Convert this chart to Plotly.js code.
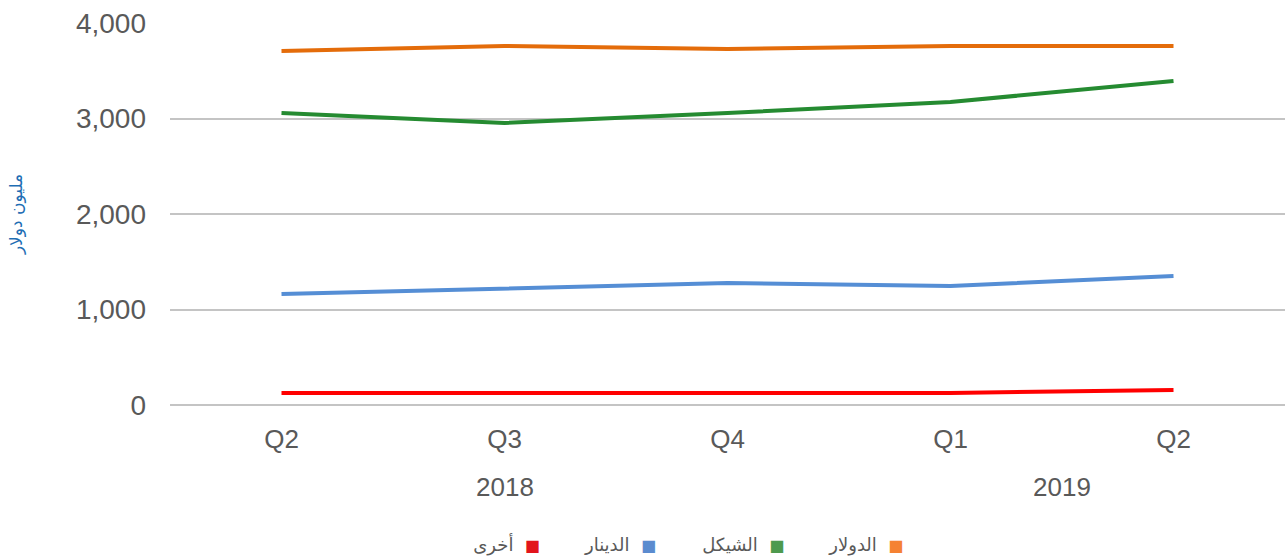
<!DOCTYPE html>
<html>
<head>
<meta charset="utf-8">
<script src="https://cdn.plot.ly/plotly-3.0.1.min.js"></script>
<style>html,body{margin:0;padding:0;background:#fff;}#chart{width:1285px;height:558px;}</style>
</head>
<body>
<div id="chart"></div>
<script>
// categories
const categories = ['Q2-2018', 'Q3-2018', 'Q4-2018', 'Q1-2019', 'Q2-2019'];
const quarterLabels = ['Q2', 'Q3', 'Q4', 'Q1', 'Q2'];
const years = ['2018', '2019'];
const yearCenters = [1, 3.5];

// series (million dollars)
const dollar = [3707, 3759, 3728, 3759, 3759];
const shekel = [3058, 2953, 3058, 3173, 3393];
const dinar  = [1162, 1215, 1277, 1246, 1351];
const other  = [126, 126, 126, 126, 157];

const seriesNames = ['الدولار', 'الشيكل', 'الدينار', 'أخرى'];
const lineColors = ['#E46C0A', '#258B31', '#558ED5', '#FF0000'];
const legendColors = ['#F58233', '#4E9A4E', '#5B8BCF', '#E2141C'];
const seriesValues = [dollar, shekel, dinar, other];

const traces = [];
seriesValues.forEach((vals, i) => {
  traces.push({
    x: categories, y: vals, type: 'scatter', mode: 'lines',
    line: {color: lineColors[i], width: 4},
    showlegend: false, hoverinfo: 'x+y', name: seriesNames[i]
  });
});
// legend entries (RTL style: text then square)
const legendOrder = [3, 2, 1, 0];
legendOrder.forEach(i => {
  traces.push({
    x: [null], y: [null], type: 'scatter', mode: 'lines',
    line: {color: 'rgba(0,0,0,0)', width: 0},
    showlegend: true, hoverinfo: 'skip',
    name: seriesNames[i] + '\u00a0\u00a0<span style="color:' + legendColors[i] + ';font-size:16px">■</span>'
  });
});

const annotations = years.map((yr, k) => ({
  text: yr, x: yearCenters[k], xref: 'x', y: -0.215, yref: 'paper',
  xanchor: 'center', yanchor: 'middle', showarrow: false,
  font: {family: 'Liberation Sans, Arial, sans-serif', size: 26, color: '#595959'}
}));

const layout = {
  width: 1285, height: 558,
  margin: {l: 170, r: 0, t: 23, b: 153, autoexpand: false},
  paper_bgcolor: '#fff', plot_bgcolor: '#fff',
  showlegend: true,
  legend: {
    orientation: 'h', x: 0.45, xanchor: 'center', y: -0.364, yanchor: 'middle',
    font: {family: 'DejaVu Sans, sans-serif', size: 18, color: '#595959'},
    itemwidth: 30, tracegroupgap: 0
  },
  xaxis: {
    type: 'category', range: [-0.5, 4.5],
    tickvals: categories, ticktext: quarterLabels,
    showgrid: false, zeroline: false, showline: false, ticks: '',
    ticklabelstandoff: 16, automargin: false,
    tickfont: {family: 'Liberation Sans, Arial, sans-serif', size: 26, color: '#595959'}
  },
  yaxis: {
    range: [0, 4000], dtick: 1000, tickformat: ',d',
    showgrid: true, gridcolor: '#C4C4C4', gridwidth: 2,
    zeroline: true, zerolinecolor: '#C4C4C4', zerolinewidth: 2,
    showline: false, ticks: '', ticklabelstandoff: 23,
    tickfont: {family: 'Liberation Sans, Arial, sans-serif', size: 28, color: '#595959'},
    title: {text: 'مليون دولار', standoff: 48,
      font: {family: 'DejaVu Sans, sans-serif', size: 17, color: '#1F6EB4'}},
    automargin: false
  },
  annotations: annotations
};

Plotly.newPlot('chart', traces, layout, {displayModeBar: false, staticPlot: true});
</script>
</body>
</html>
